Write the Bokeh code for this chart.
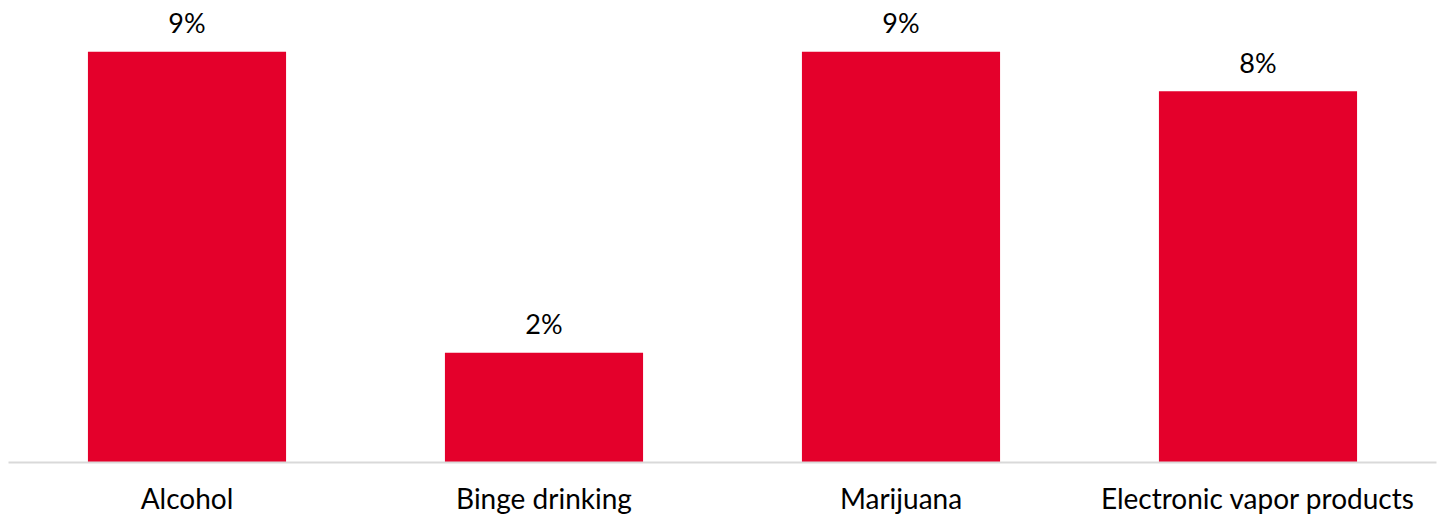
from bokeh.plotting import figure
from bokeh.models import ColumnDataSource, Range1d
from bokeh.core.properties import value
from bokeh.embed import file_html
from bokeh.resources import INLINE

categories = ["Alcohol", "Binge drinking", "Marijuana", "Electronic vapor products"]
values = [9.05, 2.42, 9.05, 8.18]
labels = [f"{round(v)}%" for v in values]

source = ColumnDataSource(dict(cat=categories, val=values, lab=labels))

p = figure(x_range=categories, y_range=Range1d(0, 10), width=1443, height=517,
           output_backend="svg", toolbar_location=None,
           min_border_left=8, min_border_right=7, min_border_top=8, min_border_bottom=54)
p.outline_line_color = None
p.background_fill_color = "white"
p.border_fill_color = "white"

p.vbar(x="cat", top="val", width=0.555, source=source, color="#e4002b", line_color=None)
p.text(x="cat", y="val", text="lab", source=source, text_align="center",
       text_baseline="alphabetic", y_offset=-29, text_font=value("Lato"),
       text_font_size="27px", text_color="#000000")

p.yaxis.visible = False
p.xgrid.visible = False
p.ygrid.visible = False
p.xaxis.axis_line_color = "#d9d9d9"
p.xaxis.axis_line_width = 2
p.xaxis.major_tick_line_color = None
p.xaxis.minor_tick_line_color = None
p.xaxis.major_tick_out = 0
p.xaxis.major_tick_in = 0
p.xaxis.major_label_standoff = 18
p.xaxis.major_label_text_font = "Lato"
p.xaxis.major_label_text_font_size = "28px"
p.xaxis.major_label_text_color = "#000000"

open("out.html", "w").write(file_html(p, INLINE))
